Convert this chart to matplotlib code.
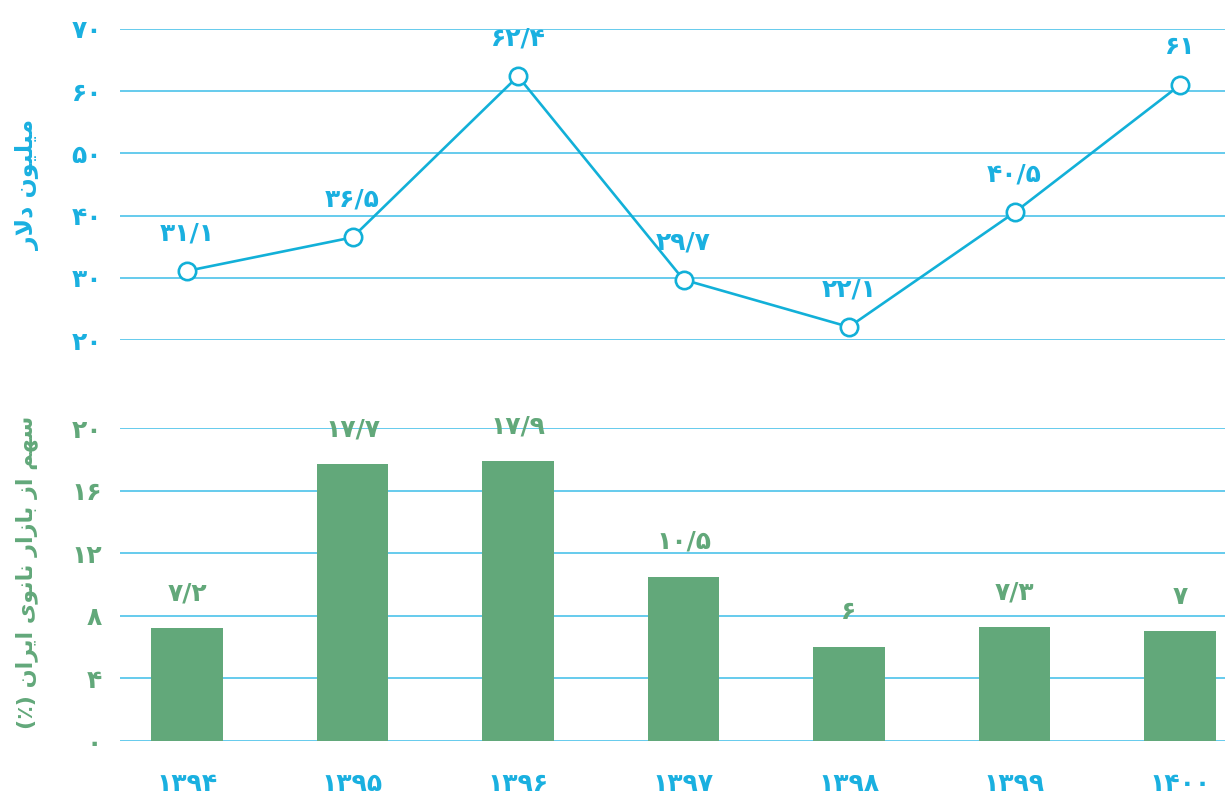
import matplotlib
matplotlib.use('Agg')
import matplotlib.pyplot as plt

plt.rcParams['font.family'] = ['DejaVu Sans']
plt.rcParams['font.weight'] = 'bold'

YEARS = ['۱۳۹۴', '۱۳۹۵', '۱۳۹۶', '۱۳۹۷', '۱۳۹۸', '۱۳۹۹', '۱۴۰۰']
EXPORT = [31.1, 36.5, 62.4, 29.7, 22.1, 40.5, 61]
SHARE = [7.2, 17.7, 17.9, 10.5, 6, 7.3, 7]
TOP_TICKS = [20, 30, 40, 50, 60, 70]
BOT_TICKS = [0, 4, 8, 12, 16, 20]
TOP_LABEL = 'میلیون دلار'
BOT_LABEL = 'سهم از بازار نانوی ایران (٪)'

BLUE = '#1ab0e0'
LINE = '#12b0d8'
GRID = '#4cc2ea'
GREEN = '#62a87a'

# presentation forms: (isolated, final, initial, medial)
FORMS = {
	'ا': ('\uFE8D', '\uFE8E'),
	'ب': ('\uFE8F', '\uFE90', '\uFE91', '\uFE92'),
	'د': ('\uFEA9', '\uFEAA'),
	'ر': ('\uFEAD', '\uFEAE'),
	'ز': ('\uFEAF', '\uFEB0'),
	'س': ('\uFEB1', '\uFEB2', '\uFEB3', '\uFEB4'),
	'ل': ('\uFEDD', '\uFEDE', '\uFEDF', '\uFEE0'),
	'م': ('\uFEE1', '\uFEE2', '\uFEE3', '\uFEE4'),
	'ن': ('\uFEE5', '\uFEE6', '\uFEE7', '\uFEE8'),
	'ه': ('\uFEE9', '\uFEEA', '\uFEEB', '\uFEEC'),
	'و': ('\uFEED', '\uFEEE'),
	'ی': ('\uFEEF', '\uFEF0', '\uFEF3', '\uFEF4'),
}


def shape(text):
	# no bidi/shaping in matplotlib, so do it by hand
	out = []
	i = 0
	while i < len(text):
		c = text[i]
		prev = text[i - 1] if i > 0 else ''
		joins_prev = prev in FORMS and len(FORMS[prev]) == 4
		if c not in FORMS:
			out.append(c)
			i += 1
			continue
		if c == 'ل' and i + 1 < len(text) and text[i + 1] == 'ا':
			out.append('\uFEFC' if joins_prev else '\uFEFB')
			i += 2
			continue
		nxt = text[i + 1] if i + 1 < len(text) else ''
		joins_next = len(FORMS[c]) == 4 and nxt in FORMS
		f = FORMS[c]
		if joins_prev and joins_next:
			out.append(f[3])
		elif joins_next:
			out.append(f[2])
		elif joins_prev:
			out.append(f[1])
		else:
			out.append(f[0])
		i += 1
	swap = {'(': ')', ')': '('}
	return ''.join(swap.get(ch, ch) for ch in reversed(out))


def fa_num(v):
	s = ('%g' % v).replace('.', '/')
	return s.translate(str.maketrans('0123456789', '۰۱۲۳۴۵۶۷۸۹'))


W, H = 1225, 798
fig = plt.figure(figsize=(W / 100, H / 100), dpi=100)
left = 120 / W
ax1 = fig.add_axes([left, 1 - 340 / H, 1 - left, 311 / H])
ax2 = fig.add_axes([left, 1 - 741 / H, 1 - left, 313 / H])

x = list(range(len(YEARS)))
xlim = ((120 - 187) / 165.5, (1225 - 187) / 165.5)
FS = 18

ax1.plot(x, EXPORT, color=LINE, lw=1.9, marker='o', ms=12.5, mfc='white',
	mec=LINE, mew=1.9, clip_on=False, zorder=3)
for xi, v in zip(x, EXPORT):
	ax1.annotate(fa_num(v), (xi, v), xytext=(0, 27), textcoords='offset points',
		ha='center', va='center', color=BLUE, fontsize=FS, annotation_clip=False)
ax1.set_ylim(20, 70)
ax1.set_yticks(TOP_TICKS)
ax1.set_yticklabels([fa_num(t) for t in TOP_TICKS], color=BLUE, fontsize=FS)
ax1.set_ylabel(shape(TOP_LABEL), color=BLUE, fontsize=17, fontweight='bold')
ax1.yaxis.set_label_coords((40 - 120) / 1105, 0.5)

bars = ax2.bar(x, SHARE, width=0.43, color=GREEN, zorder=3)
for xi, v in zip(x, SHARE):
	ax2.annotate(fa_num(v), (xi, v), xytext=(0, 25), textcoords='offset points',
		ha='center', va='center', color=GREEN, fontsize=FS, annotation_clip=False)
ax2.set_ylim(0, 20)
ax2.set_yticks(BOT_TICKS)
ax2.set_yticklabels([fa_num(t) for t in BOT_TICKS], color=GREEN, fontsize=FS)
ax2.set_ylabel(shape(BOT_LABEL), color=GREEN, fontsize=16, fontweight='bold')
ax2.yaxis.set_label_coords((38 - 120) / 1105, 0.54)
ax2.set_xticks(x)
ax2.set_xticklabels(YEARS, color=BLUE, fontsize=FS)

for ax in (ax1, ax2):
	ax.set_xlim(*xlim)
	for s in ax.spines.values():
		s.set_visible(False)
	ax.grid(axis='y', color=GRID, lw=1.2, zorder=0)
	ax.set_axisbelow(True)
	ax.tick_params(length=0, pad=13)
ax1.set_xticks([])
ax2.tick_params(axis='x', pad=22)

fig.savefig('out.png', dpi=100)
